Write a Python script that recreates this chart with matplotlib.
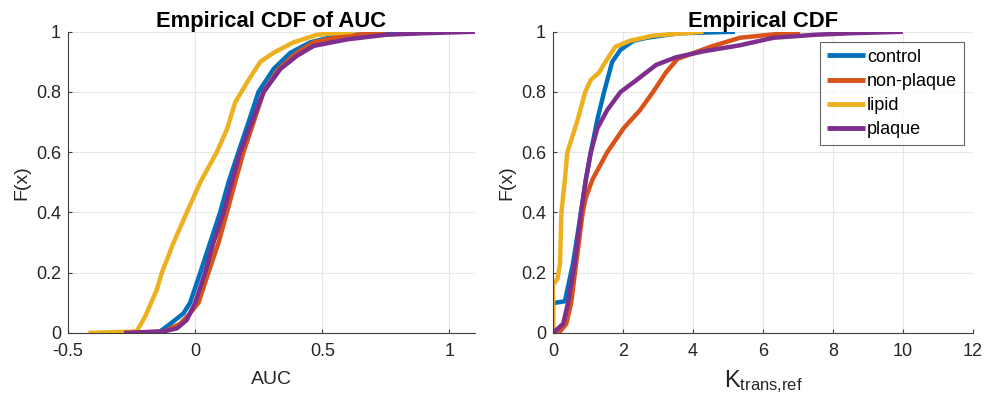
"""Empirical CDF curves of AUC and K_trans,ref for four tissue groups."""

import matplotlib
matplotlib.use('Agg')
import matplotlib.pyplot as plt

plt.rcParams['font.family'] = ['Liberation Sans', 'DejaVu Sans']
plt.rcParams['mathtext.fontset'] = 'custom'
plt.rcParams['mathtext.rm'] = 'Liberation Sans'

groups = ['control', 'non-plaque', 'lipid', 'plaque']
colors = ['#0072BD', '#D95319', '#EDB120', '#7E2F8E']

# left panel: AUC values (x, F)
auc_x = {
    'control': [-0.16, -0.138, -0.098, -0.046, -0.02, 0.02, 0.059, 0.098,
                0.131, 0.17, 0.21, 0.249, 0.308, 0.374, 0.453, 0.55, 0.83],
    'non-plaque': [-0.28, -0.12, -0.06, -0.025, 0.013, 0.052, 0.092, 0.125,
                   0.157, 0.19, 0.23, 0.269, 0.328, 0.4, 0.466, 0.58, 0.75],
    'lipid': [-0.42, -0.23, -0.197, -0.151, -0.131, -0.085, -0.033, 0.02,
              0.085, 0.125, 0.157, 0.21, 0.256, 0.308, 0.387, 0.48, 0.62],
    'plaque': [-0.28, -0.125, -0.072, -0.033, 0.0, 0.039, 0.072, 0.112,
               0.144, 0.177, 0.223, 0.269, 0.335, 0.4, 0.466, 0.6, 0.75,
               0.9, 1.1],
}
auc_f = {
    'control': [0.0, 0.005, 0.03, 0.065, 0.1, 0.2, 0.3, 0.4,
                0.5, 0.6, 0.7, 0.8, 0.876, 0.93, 0.965, 0.985, 1.0],
    'non-plaque': [0.0, 0.005, 0.03, 0.06, 0.1, 0.2, 0.3, 0.4,
                   0.5, 0.6, 0.7, 0.8, 0.876, 0.93, 0.965, 0.985, 1.0],
    'lipid': [0.0, 0.005, 0.054, 0.143, 0.2, 0.3, 0.4, 0.5,
              0.6, 0.676, 0.765, 0.84, 0.9, 0.93, 0.965, 0.99, 1.0],
    'plaque': [0.0, 0.005, 0.015, 0.043, 0.1, 0.2, 0.3, 0.4,
               0.5, 0.6, 0.7, 0.8, 0.876, 0.92, 0.953, 0.975, 0.99,
               0.995, 1.0],
}

# right panel: K_trans,ref values (x, F)
k_x = {
    'control': [0.0, 0.0, 0.34, 0.57, 0.8, 0.94, 1.08, 1.27, 1.46,
                1.69, 1.93, 2.3, 2.68, 3.6, 5.2],
    'non-plaque': [0.0, 0.2, 0.38, 0.52, 0.66, 0.85, 0.94, 1.13, 1.55,
                   2.02, 2.49, 2.86, 3.23, 3.56, 4.5, 5.34, 7.06],
    'lipid': [0.0, 0.0, 0.13, 0.2, 0.24, 0.34, 0.41, 0.52, 0.71, 0.92,
              1.08, 1.32, 1.5, 1.78, 2.2, 2.86, 4.3],
    'plaque': [0.0, 0.29, 0.43, 0.62, 0.8, 0.94, 1.08, 1.27, 1.55,
               1.93, 2.39, 2.95, 3.51, 4.3, 5.34, 6.3, 7.5, 8.5, 10.0],
}
k_f = {
    'control': [0.0, 0.099, 0.105, 0.23, 0.4, 0.51, 0.6, 0.71, 0.8,
                0.9, 0.94, 0.97, 0.98, 0.995, 1.0],
    'non-plaque': [0.0, 0.005, 0.03, 0.1, 0.23, 0.4, 0.45, 0.51, 0.6,
                   0.68, 0.74, 0.8, 0.865, 0.91, 0.95, 0.98, 1.0],
    'lipid': [0.0, 0.16, 0.18, 0.23, 0.4, 0.51, 0.6, 0.64, 0.71, 0.8,
              0.84, 0.865, 0.9, 0.95, 0.97, 0.987, 1.0],
    'plaque': [0.0, 0.03, 0.1, 0.23, 0.4, 0.51, 0.6, 0.68, 0.74,
               0.8, 0.84, 0.89, 0.915, 0.935, 0.955, 0.98, 0.99, 0.995, 1.0],
}

yticks = [0, 0.2, 0.4, 0.6, 0.8, 1]
yticklabels = ['0', '0.2', '0.4', '0.6', '0.8', '1']
auc_ticks = [-0.5, 0, 0.5, 1]
auc_ticklabels = ['-0.5', '0', '0.5', '1']
k_ticks = [0, 2, 4, 6, 8, 10, 12]


def style_axes(ax):
    ax.grid(True, color='#e6e6e6', linewidth=0.8)
    ax.set_axisbelow(True)
    ax.spines['top'].set_visible(False)
    ax.spines['right'].set_visible(False)
    for side in ('left', 'bottom'):
        ax.spines[side].set_color('#404040')
        ax.spines[side].set_linewidth(0.8)
    ax.tick_params(direction='in', length=3, colors='#404040',
                   labelcolor='#262626', labelsize=13, pad=5)
    ax.tick_params(axis='x', pad=7)
    ax.set_ylim(0, 1)
    ax.set_yticks(yticks)
    ax.set_yticklabels(yticklabels)
    ax.set_ylabel('F(x)', fontsize=14, color='#262626', labelpad=4)


fig = plt.figure(figsize=(9.9, 4.07), dpi=100)
ax1 = fig.add_axes([0.0687, 0.182, 0.411, 0.74])
ax2 = fig.add_axes([0.5586, 0.182, 0.424, 0.74])

for name, c in zip(groups, colors):
    ax1.plot(auc_x[name], auc_f[name], color=c, linewidth=3.2,
             solid_capstyle='butt', solid_joinstyle='round')
    ax2.plot(k_x[name], k_f[name], color=c, linewidth=3.2,
             solid_capstyle='butt', solid_joinstyle='round', label=name)

style_axes(ax1)
ax1.set_xlim(-0.5, 1.1)
ax1.set_xticks(auc_ticks)
ax1.set_xticklabels(auc_ticklabels)
ax1.set_xlabel('AUC', fontsize=14, color='#262626', labelpad=8)
ax1.set_title('Empirical CDF of AUC', fontsize=15.8, fontweight='bold',
              pad=3)

style_axes(ax2)
ax2.set_xlim(0, 12)
ax2.set_xticks(k_ticks)
ax2.set_xlabel(r'$\mathrm{K_{trans{,}ref}}$', fontsize=17,
               color='#262626', labelpad=6)
ax2.set_title('Empirical CDF', fontsize=15.8, fontweight='bold', pad=3)

leg = ax2.legend(loc='upper right', bbox_to_anchor=(0.978, 0.965),
                 fontsize=13, frameon=True, fancybox=False,
                 handlelength=2.1, handletextpad=0.15, borderpad=0.35,
                 labelspacing=0.4, borderaxespad=0.0)
leg.get_frame().set_edgecolor('#404040')
leg.get_frame().set_linewidth(0.8)
for line in leg.get_lines():
    line.set_linewidth(3.5)

fig.savefig('out.png', dpi=100)
